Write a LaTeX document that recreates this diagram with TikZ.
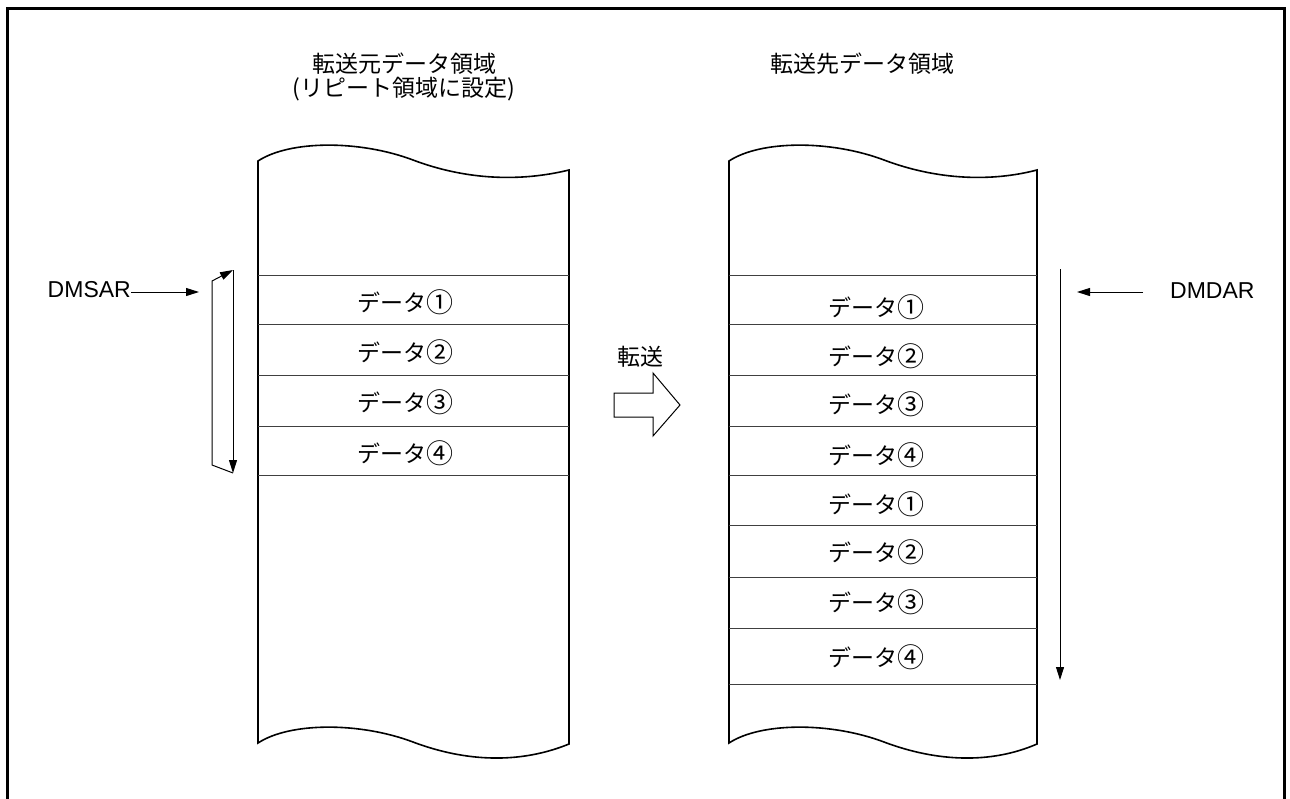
\documentclass[tikz,border=0pt]{standalone}
\usepackage{fontspec}
\setmainfont{Liberation Sans}
\newfontfamily\jp{Noto Sans CJK JP}
\usetikzlibrary{arrows.meta}
\newcommand{\circnum}[1]{{\fontsize{27}{27}\selectfont\raisebox{-1pt}{#1}}}
\tikzset{
  frameline/.style={line width=3pt},
  colline/.style={line width=1.6pt},
  rowline/.style={line width=1pt, black!75},
  jptext/.style={font=\jp\fontsize{23}{27}\selectfont, inner sep=0pt},
  lattext/.style={font=\fontsize{23}{27}\selectfont, inner sep=0pt},
  ptr/.style={line width=1pt, -{Triangle[length=13pt,width=8pt]}},
  bigarrow/.style={line width=1pt},
}
\begin{document}
\begin{tikzpicture}[x=1pt,y=-1pt]
\useasboundingbox (0,0) rectangle (1290,798);
% frame (open at bottom)
\draw[frameline] (7,800) -- (7,8) -- (1284,8) -- (1284,800);
% left column
\draw[colline] (258,161) .. controls (290,140) and (360,140) .. (413,160)
  .. controls (466,180) and (520,182) .. (569,170) -- (569,744)
  .. controls (520,764) and (466,762) .. (413,742)
  .. controls (360,722) and (290,722) .. (258,743) -- cycle;
% right column
\draw[colline] (729,161) .. controls (761,140) and (831,140) .. (884,160)
  .. controls (937,180) and (991,182) .. (1037,170) -- (1037,744)
  .. controls (991,764) and (937,762) .. (884,742)
  .. controls (831,722) and (761,722) .. (729,743) -- cycle;
% rows left
\foreach \y in {275,324,375,426,475} \draw[rowline] (258,\y) -- (569,\y);
% rows right
\foreach \y in {275,324,375,426,475,525,577,628,684} \draw[rowline] (729,\y) -- (1037,\y);
% titles
\node[jptext] (t1) at (404,64) {転送元データ領域};
\node[jptext] (t2) at (404,89) {(リピート領域に設定)};
\node[jptext] (t3) at (862,64) {転送先データ領域};
% left data
\node[jptext] (l1) at (405,302) {データ\circnum{①}};
\node[jptext] (l2) at (405,352) {データ\circnum{②}};
\node[jptext] (l3) at (405,402) {データ\circnum{③}};
\node[jptext] (l4) at (405,453) {データ\circnum{④}};
% right data
\node[jptext] (r1) at (876,307) {データ\circnum{①}};
\node[jptext] (r2) at (876,356) {データ\circnum{②}};
\node[jptext] (r3) at (876,404) {データ\circnum{③}};
\node[jptext] (r4) at (876,455) {データ\circnum{④}};
\node[jptext] (r5) at (876,504) {データ\circnum{①}};
\node[jptext] (r6) at (876,552) {データ\circnum{②}};
\node[jptext] (r7) at (876,602) {データ\circnum{③}};
\node[jptext] (r8) at (876,657) {データ\circnum{④}};
% DMSAR
\node[lattext, anchor=east] (dmsar) at (131,290) {DMSAR};
\coordinate (sa) at (199,292);
\draw[ptr] (dmsar.east |- sa) -- (sa);
% loop arrow on left
\coordinate (lt) at (233,270);
\coordinate (lb) at (233,473);
\coordinate (ll1) at (212,465);
\coordinate (ll2) at (212,281);
\draw[ptr] (lt) -- (lb);
\draw[ptr] (lb) -- (ll1) -- (ll2) -- (lt);
% DMDAR
\node[lattext, anchor=west] (dmdar) at (1170,291) {DMDAR};
\coordinate (da0) at (1143,292);
\coordinate (da1) at (1077,292);
\draw[ptr] (da0) -- (da1);
% right down arrow
\coordinate (rd0) at (1060,269);
\coordinate (rd1) at (1060,680);
\draw[ptr] (rd0) -- (rd1);
% transfer arrow
\node[jptext] (tr) at (640,357) {転送};
\draw[bigarrow] (614,393) -- (653,393) -- (653,373) -- (680,405) -- (653,436) -- (653,417) -- (614,417) -- cycle;
\end{tikzpicture}
\end{document}
